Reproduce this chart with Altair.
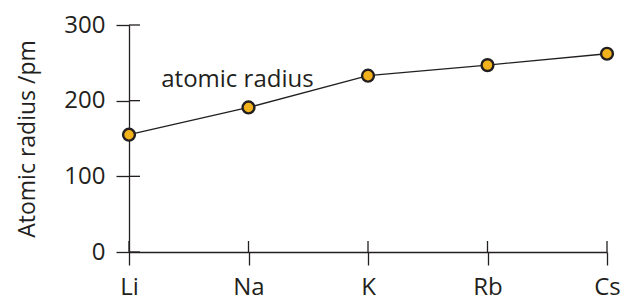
import altair as alt
import pandas as pd

elements = ["Li", "Na", "K", "Rb", "Cs"]
radius = [155, 191, 233, 247, 262]
y_ticks = [0, 100, 200, 300]
label_text = ["atomic radius"]
label_x = [0.27]
label_y = [227]

INK = "#231f20"
FONT = "Open Sans"
W, H = 478, 227

df = pd.DataFrame({"idx": list(range(len(elements))), "el": elements, "r": radius})
ytk = pd.DataFrame({"v": y_ticks})
xtk = pd.DataFrame({"idx": list(range(len(elements)))})
lab = pd.DataFrame({"t": label_text, "x": label_x, "y": label_y})

label_expr = "[" + ",".join(f"'{e}'" for e in elements) + "][datum.value]"

xscale = alt.Scale(domain=[0, len(elements) - 1], nice=False, zero=False)
yscale = alt.Scale(domain=[0, 300], nice=False)

xaxis = alt.Axis(values=list(range(len(elements))), labelExpr=label_expr, grid=False,
                 tickSize=13, tickColor=INK, tickWidth=1.3, domainColor=INK, domainWidth=1.3,
                 labelFont=FONT, labelFontSize=24, labelColor=INK, labelPadding=10,
                 labelFlush=False, title=None)
yaxis = alt.Axis(values=y_ticks, grid=False, tickSize=13, tickColor=INK, tickWidth=1.3,
                 domainColor=INK, domainWidth=1.3, labelFont=FONT, labelFontSize=24,
                 labelColor=INK, labelPadding=11, title="Atomic radius /pm",
                 titleFont=FONT, titleFontSize=23, titleFontWeight="normal",
                 titleColor=INK, titlePadding=24)

line = alt.Chart(df).mark_line(color=INK, strokeWidth=1.3).encode(
    x=alt.X("idx:Q", scale=xscale, axis=xaxis),
    y=alt.Y("r:Q", scale=yscale, axis=yaxis),
)
pts = alt.Chart(df).mark_point(filled=True, fill="#f2b21b", stroke=INK, strokeWidth=2.4,
                               size=140, opacity=1).encode(
    x=alt.X("idx:Q", scale=xscale),
    y=alt.Y("r:Q", scale=yscale),
)
yin = alt.Chart(ytk).mark_rule(color=INK, strokeWidth=1.3).encode(
    y=alt.Y("v:Q", scale=yscale), x=alt.value(0), x2=alt.value(11)
)
xin = alt.Chart(xtk).mark_rule(color=INK, strokeWidth=1.3).encode(
    x=alt.X("idx:Q", scale=xscale), y=alt.value(H), y2=alt.value(H - 11)
)
txt = alt.Chart(lab).mark_text(align="left", baseline="middle", font=FONT, fontSize=24,
                               color=INK).encode(
    x=alt.X("x:Q", scale=xscale), y=alt.Y("y:Q", scale=yscale), text="t:N"
)

chart = alt.layer(yin, xin, line, pts, txt).properties(
    width=W, height=H,
    autosize=alt.AutoSizeParams(type="none"),
    padding={"left": 121, "top": 17, "right": 20, "bottom": 48},
).configure_view(stroke=None)

chart.save("out.html", embed_options={"renderer": "svg", "actions": False})
